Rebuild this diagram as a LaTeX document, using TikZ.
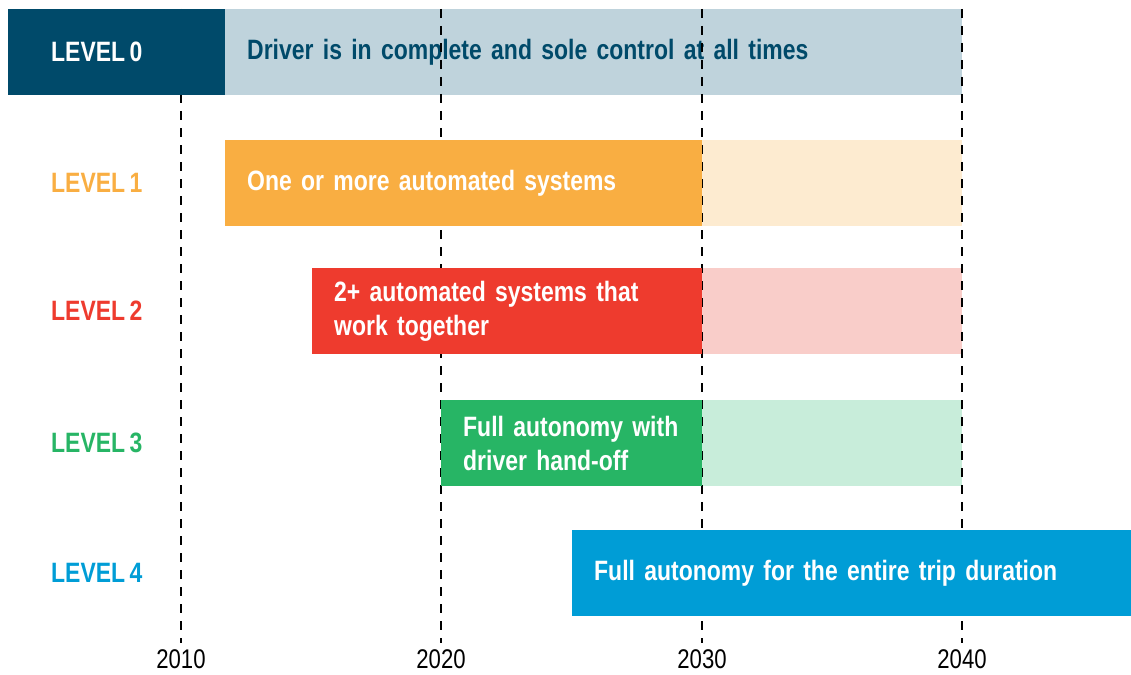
\documentclass[tikz,border=0pt]{standalone}
\usepackage{fontspec}
\setmainfont[FakeStretch=0.82, WordSpace=0.7]{Liberation Sans}
\usepackage{xcolor}
\usepackage{tikz}
\usetikzlibrary{positioning}
\definecolor{levelzero}{RGB}{0,74,106}
\definecolor{levelzerolight}{RGB}{191,211,220}
\definecolor{levelone}{RGB}{249,174,66}
\definecolor{levelonelight}{RGB}{253,235,208}
\definecolor{leveltwo}{RGB}{238,59,46}
\definecolor{leveltwolight}{RGB}{249,205,201}
\definecolor{levelthree}{RGB}{39,181,101}
\definecolor{levelthreelight}{RGB}{200,237,218}
\definecolor{levelfour}{RGB}{0,157,214}
\tikzset{
bar/.style = { rectangle, draw = none, anchor = north west, minimum height = 86pt, inner xsep = 22pt, inner ysep = 0pt, align = left, text = white, font = \fontsize{28}{34}\selectfont\bfseries },
level label/.style = { anchor = west, inner sep = 0pt, font = \fontsize{28}{34}\selectfont\bfseries },
year/.style = { inner sep = 0pt, font = \fontsize{27}{32}\selectfont },
year line/.style = { black, line width = 2pt, dash pattern = on 9pt off 8pt },
}
\begin{document}
\begin{tikzpicture}[x=1pt, y=-1pt]
      \useasboundingbox (0,0) rectangle (1131,674);
      % light bars behind the year lines
      \begin{scope}[every node/.style={bar}]
        \node[fill=levelzerolight, text=levelzero, text width=693pt] (bar0) at (225,9) {Driver is in complete and sole control at all times};
        \node[fill=levelonelight, text width=216pt] (bar1b) at (702,140) {};
        \node[fill=leveltwolight, text width=216pt] (bar2b) at (702,268) {};
        \node[fill=levelthreelight, text width=216pt] (bar3b) at (702,400) {};
      \end{scope}
      % year lines
      \coordinate (t2010) at (181,9);
      \coordinate (t2020) at (441,9);
      \coordinate (t2030) at (702,9);
      \coordinate (t2040) at (962,9);
      \node[year] (y2010) at (181,659) {2010};
      \node[year] (y2020) at (441,659) {2020};
      \node[year] (y2030) at (702,659) {2030};
      \node[year] (y2040) at (962,659) {2040};
      \draw[year line] (t2010) -- ([yshift=6pt]y2010.north);
      \draw[year line] (t2020) -- ([yshift=6pt]y2020.north);
      \draw[year line] (t2030) -- ([yshift=6pt]y2030.north);
      \draw[year line] (t2040) -- ([yshift=6pt]y2040.north);
      % strong bars
      \begin{scope}[every node/.style={bar}]
        \node[fill=levelzero, text width=173pt] (head0) at (8,9) {};
        \node[fill=levelone, text width=433pt] (bar1) at (225,140) {One or more automated systems};
        \node[fill=leveltwo, text width=346pt] (bar2) at (312,268) {2+ automated systems that\\work together};
        \node[fill=levelthree, text width=217pt] (bar3) at (441,400) {Full autonomy with\\driver hand-off};
        \node[fill=levelfour, text width=515pt] (bar4) at (572,530) {Full autonomy for the entire trip duration};
      \end{scope}
      % level names
      \node[level label, white] (lvl0) at (51,52) {LEVEL 0};
      \node[level label, levelone] (lvl1) at (51,183) {LEVEL 1};
      \node[level label, leveltwo] (lvl2) at (51,311) {LEVEL 2};
      \node[level label, levelthree] (lvl3) at (51,443) {LEVEL 3};
      \node[level label, levelfour] (lvl4) at (51,573) {LEVEL 4};
    \end{tikzpicture}
\end{document}
